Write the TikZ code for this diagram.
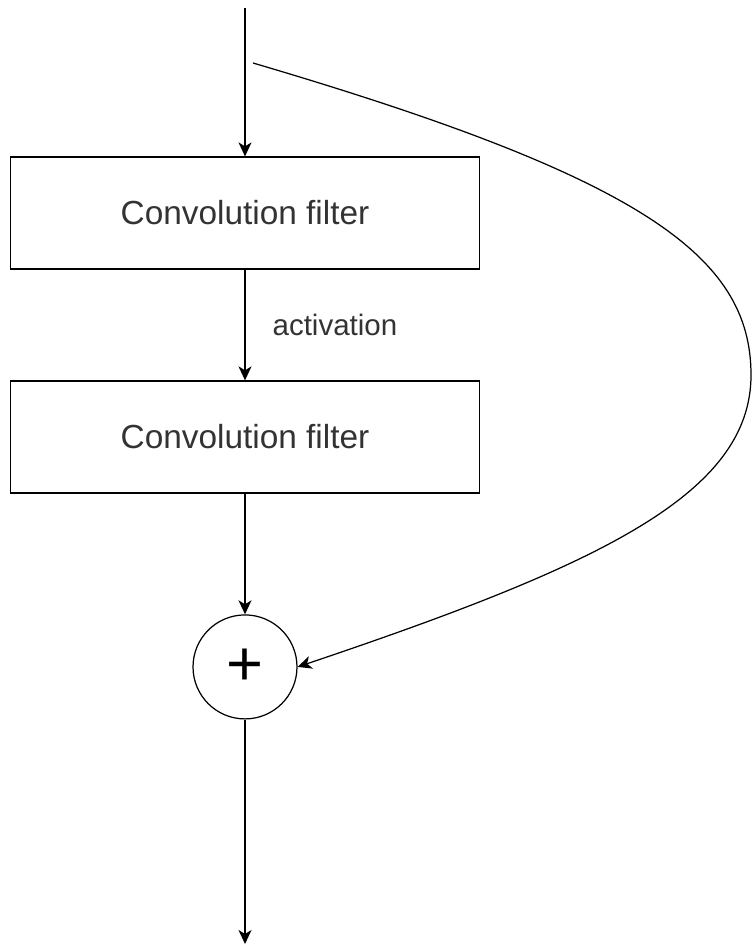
\documentclass[tikz,border=0pt]{standalone}
\usepackage{fontspec}
\setmainfont{Liberation Sans}
\usetikzlibrary{arrows.meta}
\begin{document}
\begin{tikzpicture}[x=0.02cm, y=-0.02cm, node distance=4.48cm, line width=0.7pt,
        >={Stealth[length=0.28cm, width=0.26cm, inset=0.08cm]},
        block/.style={rectangle, draw, minimum width=9.38cm, minimum height=2.24cm, font=\fontsize{19}{23}\selectfont, text=black!80},
        adder/.style={circle, draw, minimum size=2.08cm, inner sep=0pt, font=\fontsize{36}{42}\selectfont},
        lbl/.style={inner sep=0pt, font=\fontsize{16.8}{20}\selectfont, text=black!80}]
        \useasboundingbox (0,0) rectangle (752,945);
        \coordinate (in) at (245,8);
        \node[block] (conv1) at (245,213) {Convolution filter};
        \node[block, below of=conv1] (conv2) {Convolution filter};
        \node[adder, below of=conv2, node distance=4.6cm] (sum) {\raisebox{-0.07cm}{+}};
        \coordinate (out) at (245,944);
        \coordinate (skip) at (253,63);
        \draw[->] (in) -- (conv1);
        \draw[->] (conv1) -- node[lbl, right, xshift=0.54cm] (act) {activation} (conv2);
        \draw[->] (conv2) -- (sum);
        \draw[->] (sum) -- (out);
        \draw[->] (skip) .. controls (640,177) and (751,255) .. (751,375)
            .. controls (751,495) and (597,566) .. (sum.east);
    \end{tikzpicture}
\end{document}
